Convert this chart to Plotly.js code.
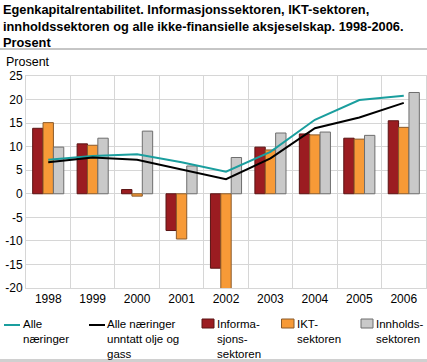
<!DOCTYPE html>
<html>
<head>
<meta charset="utf-8">
<script src="https://cdn.plot.ly/plotly-3.0.1.min.js"></script>
<style>html,body{margin:0;padding:0;background:#fff}#chart{width:427px;height:362px}</style>
</head>
<body>
<div id="chart"></div>
<script>
var years = ["1998","1999","2000","2001","2002","2003","2004","2005","2006"];
var informasjon = [13.9, 10.6, 0.9, -7.8, -15.8, 9.9, 12.7, 11.8, 15.5];
var ikt = [15.1, 10.3, -0.5, -9.6, -20.5, 9.3, 12.5, 11.6, 14.1];
var innhold = [9.9, 11.8, 13.3, 5.9, 7.7, 12.9, 13.1, 12.4, 21.5];
var alleNaringer = [7.2, 8.0, 8.4, 6.7, 4.7, 8.9, 15.7, 19.9, 20.8];
var alleUtenOlje = [6.7, 7.7, 7.2, 5.2, 3.1, 7.5, 13.9, 16.2, 19.3];
var yTicks = [-20, -15, -10, -5, 0, 5, 10, 15, 20, 25];

var FONT = "Liberation Sans, Arial, sans-serif";
var cRed = "#9b1c21", cOrange = "#f79a37", cGray = "#c9c9c9", cTeal = "#1a9e9e";

var traces = [
  {type:"bar", x:years, y:informasjon, name:"Informasjonssektoren",
   marker:{color:cRed, line:{color:"#5a1414", width:1}}},
  {type:"bar", x:years, y:ikt, name:"IKT-sektoren",
   marker:{color:cOrange, line:{color:"#8a5a2a", width:1}}},
  {type:"bar", x:years, y:innhold, name:"Innholdssektoren",
   marker:{color:cGray, line:{color:"#6e6e6e", width:1}}},
  {type:"scatter", mode:"lines", x:years, y:alleNaringer, name:"Alle næringer",
   line:{color:cTeal, width:2}},
  {type:"scatter", mode:"lines", x:years, y:alleUtenOlje, name:"Alle næringer unntatt olje og gass",
   line:{color:"#000000", width:2}}
];

var L = 26, PW = 400, T = 76, PH = 212;
function px(x){ return (x - L) / PW; }
function py(y){ return (T + PH - y) / PH; }

var annotations = [
  {xref:"paper", yref:"paper", x:px(1), y:py(0), xanchor:"left", yanchor:"top", align:"left", showarrow:false,
   text:"<b>Egenkapitalrentabilitet. Informasjonssektoren, IKT-sektoren,<br>innholdssektoren og alle ikke-finansielle aksjeselskap. 1998-2006.<br>Prosent</b>",
   font:{family:FONT, size:12.8, color:"#000"}},
  {xref:"paper", yref:"paper", x:px(4), y:py(61.5), xanchor:"left", yanchor:"middle", showarrow:false,
   text:"Prosent", font:{family:FONT, size:12.5, color:"#000"}}
];
var legendTexts = [
  [22, ["Alle","næringer"]],
  [106, ["Alle næringer","unntatt olje og","gass"]],
  [216, ["Informa-","sjons-","sektoren"]],
  [296, ["IKT-","sektoren"]],
  [375, ["Innholds-","sektoren"]]
];
var LFS = 11.5, firstRow = 324, rowStep = LFS * 1.3;
legendTexts.forEach(function(e){
  var n = e[1].length;
  var center = firstRow + rowStep * (n - 1) / 2;
  annotations.push({xref:"paper", yref:"paper", x:px(e[0]), y:py(center), xanchor:"left", yanchor:"middle",
    align:"left", showarrow:false, borderpad:0, text:e[1].join("<br>"),
    font:{family:FONT, size:LFS, color:"#000"}});
});

var shapes = [
  {type:"line", xref:"paper", yref:"paper", x0:px(0), x1:px(427), y0:py(49), y1:py(49), line:{color:"#8c8c8c", width:1}},
  {type:"line", xref:"paper", yref:"paper", x0:px(0), x1:px(427), y0:py(360.5), y1:py(360.5), line:{color:"#d0d0d0", width:3}},
  {type:"line", xref:"paper", yref:"paper", x0:px(4), x1:px(20), y0:py(325), y1:py(325), line:{color:cTeal, width:2}},
  {type:"line", xref:"paper", yref:"paper", x0:px(89), x1:px(105), y0:py(325), y1:py(325), line:{color:"#000", width:2}},
  {type:"rect", xref:"paper", yref:"paper", x0:px(202), x1:px(214), y0:py(319), y1:py(328), fillcolor:cRed, line:{color:"#5a1414", width:1}},
  {type:"rect", xref:"paper", yref:"paper", x0:px(281.5), x1:px(294), y0:py(319), y1:py(328), fillcolor:cOrange, line:{color:"#8a5a2a", width:1}},
  {type:"rect", xref:"paper", yref:"paper", x0:px(361), x1:px(373), y0:py(319), y1:py(328), fillcolor:cGray, line:{color:"#6e6e6e", width:1}}
];

var layout = {
  width:427, height:362,
  margin:{l:L, r:427-L-PW, t:T, b:362-T-PH, pad:0},
  paper_bgcolor:"#fff", plot_bgcolor:"#fff",
  showlegend:false,
  barmode:"group", bargap:0.3, bargroupgap:0,
  font:{family:FONT, size:12, color:"#000"},
  xaxis:{type:"category", tickson:"boundaries", showgrid:true, gridcolor:"#d6d6d6", gridwidth:1,
    showline:true, mirror:true, linecolor:"#d6d6d6", linewidth:1, ticks:"", ticklen:0,
    tickfont:{family:FONT, size:12, color:"#000"}, fixedrange:true},
  yaxis:{range:[-20,25], tickvals:yTicks, ticktext:yTicks.map(String), showgrid:true, gridcolor:"#d6d6d6", gridwidth:1,
    zeroline:false, showline:true, mirror:true, linecolor:"#d6d6d6", linewidth:1, ticks:"",
    tickfont:{family:FONT, size:12, color:"#000"}, fixedrange:true},
  annotations:annotations,
  shapes:shapes
};

Plotly.newPlot("chart", traces, layout, {staticPlot:true, displayModeBar:false});
</script>
</body>
</html>
